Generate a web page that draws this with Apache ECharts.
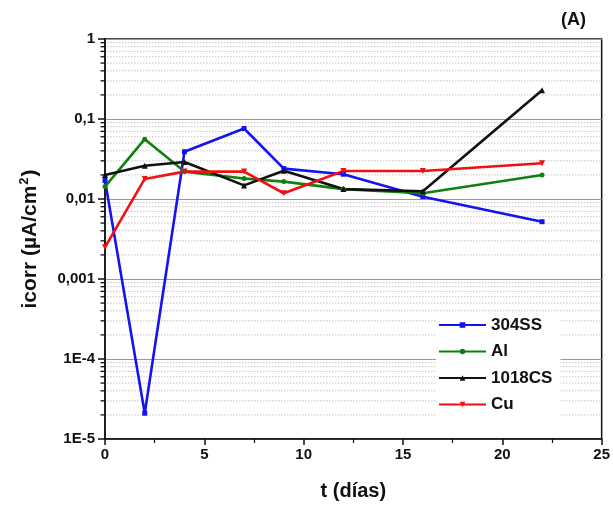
<!DOCTYPE html>
<html>
<head>
<meta charset="utf-8">
<script src="https://cdn.jsdelivr.net/npm/echarts@6/dist/echarts.min.js"></script>
<style>
html,body{margin:0;padding:0;background:#fff;}
#chart{width:613px;height:508px;}
</style>
</head>
<body>
<div id="chart"></div>
<script>
// ---- data ----
var days = [0, 2, 4, 7, 9, 12, 16, 22];
var ss304 = [0.017, 0.000021, 0.039, 0.076, 0.024, 0.0204, 0.0107, 0.0052];
var al = [0.0143, 0.056, 0.022, 0.018, 0.0165, 0.0133, 0.0118, 0.020];
var cs1018 = [0.020, 0.026, 0.029, 0.0148, 0.0226, 0.0133, 0.0125, 0.228];
var cu = [0.0025, 0.0178, 0.022, 0.022, 0.0118, 0.0224, 0.0224, 0.028];
var seriesNames = ['304SS', 'Al', '1018CS', 'Cu'];
var yTickValues = [1, 0.1, 0.01, 0.001, 0.0001, 0.00001];
var yTickLabels = ['1', '0,1', '0,01', '0,001', '1E-4', '1E-5'];
var minorDecades = [0.00001, 0.0001, 0.001, 0.01, 0.1];
var minorMultipliers = [2, 3, 4, 5, 6, 7, 8, 9];

var minorVals = [];
minorDecades.forEach(function (d) {
  minorMultipliers.forEach(function (m) { minorVals.push([0, d * m]); });
});

function pairs(vals) { return days.map(function (d, i) { return [d, vals[i]]; }); }

var font = 'Liberation Sans, Arial, sans-serif';

var chart = echarts.init(document.getElementById('chart'), null, {renderer: 'canvas'});

function lineSeries(name, vals, color, symbol, size) {
  return {
    name: name, type: 'line', data: pairs(vals),
    symbol: symbol, symbolSize: size,
    lineStyle: {color: color, width: 2.6},
    itemStyle: {color: color},
    z: 5
  };
}

chart.setOption({
  animation: false,
  backgroundColor: '#fff',
  title: {
    text: '(A)', right: 22, top: 6,
    textStyle: {fontFamily: font, fontWeight: 'bold', fontSize: 18, color: '#111'}
  },
  grid: {left: 105, right: 11, top: 39, bottom: 69, show: true, borderColor: '#111', borderWidth: 1.5, backgroundColor: 'transparent'},
  legend: {
    data: seriesNames,
    orient: 'vertical', left: 436, top: 313,
    itemWidth: 47, itemHeight: 7, itemGap: 8.5,
    backgroundColor: '#fff', padding: [3, 8, 3, 2],
    textStyle: {fontFamily: font, fontWeight: 'bold', fontSize: 17, color: '#111', lineHeight: 18}
  },
  xAxis: {
    type: 'value', min: 0, max: 25, interval: 5,
    name: 't (días)', nameLocation: 'middle', nameGap: 42,
    nameTextStyle: {fontFamily: font, fontWeight: 'bold', fontSize: 20, color: '#111'},
    axisLine: {lineStyle: {color: '#111', width: 1.5}},
    axisTick: {length: 6, lineStyle: {color: '#111', width: 1.5}},
    minorTick: {show: true, splitNumber: 2, length: 4, lineStyle: {color: '#111', width: 1.2}},
    splitLine: {show: false},
    axisLabel: {fontFamily: font, fontWeight: 'bold', fontSize: 15, color: '#111', margin: 8}
  },
  yAxis: {
    type: 'log', logBase: 10, min: 0.00001, max: 1, interval: 1,
    name: '{t|icorr (µA/cm}{s|2}{t|)}', nameLocation: 'middle', nameGap: 64,
    nameTextStyle: {
      fontFamily: font, fontWeight: 'bold', fontSize: 21, color: '#111',
      rich: {
        t: {fontFamily: font, fontWeight: 'bold', fontSize: 21, color: '#111', verticalAlign: 'bottom'},
        s: {fontFamily: font, fontWeight: 'bold', fontSize: 13, color: '#111', verticalAlign: 'top', padding: [0, 1, 10, 1]}
      }
    },
    axisLine: {show: true, lineStyle: {color: '#111', width: 1.5}},
    axisTick: {length: 7, lineStyle: {color: '#111', width: 1.5}},
    splitLine: {show: true, lineStyle: {color: '#999', width: 1.2}},
    axisLabel: {
      fontFamily: font, fontWeight: 'bold', fontSize: 15, color: '#111', margin: 10,
      formatter: function (v) {
        for (var i = 0; i < yTickValues.length; i++) {
          if (Math.abs(Math.log10(v) - Math.log10(yTickValues[i])) < 1e-6) return yTickLabels[i];
        }
        return '';
      }
    }
  },
  series: [
    {
      type: 'custom', name: 'minor', data: minorVals, silent: true, z: 1,
      encode: {x: 0, y: 1}, clip: false,
      renderItem: function (params, api) {
        var p = api.coord([0, api.value(1)]);
        var cs = params.coordSys;
        return {
          type: 'group',
          children: [
            {type: 'line', shape: {x1: cs.x + 2, y1: p[1], x2: cs.x + cs.width - 2, y2: p[1]},
              style: {stroke: '#c4c4c4', lineWidth: 1, lineDash: [1.5, 1.5]}},
            {type: 'line', shape: {x1: cs.x - 4.5, y1: p[1], x2: cs.x, y2: p[1]},
              style: {stroke: '#111', lineWidth: 1.3}}
          ]
        };
      }
    },
    lineSeries('304SS', ss304, '#1414f0', 'rect', 5),
    lineSeries('Al', al, '#108010', 'circle', 5),
    lineSeries('1018CS', cs1018, '#111111', 'triangle', 6),
    lineSeries('Cu', cu, '#f01010', 'path://M0,0 L10,0 L5,9 Z', 6)
  ]
});
</script>
</body>
</html>
